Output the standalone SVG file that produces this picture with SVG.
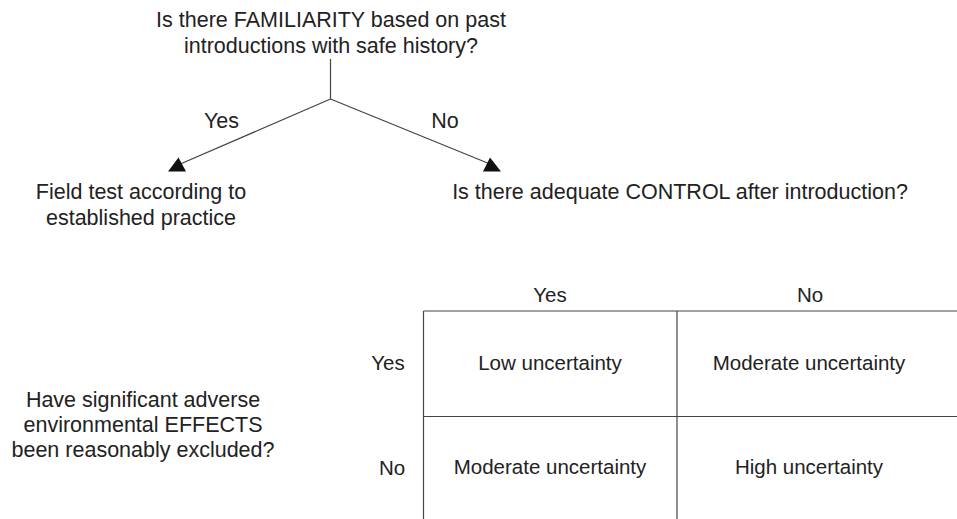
<svg xmlns="http://www.w3.org/2000/svg" width="957" height="519" viewBox="0 0 957 519">
  <style>
    text { font-family: "Liberation Sans", Arial, sans-serif; fill: #222; text-anchor: middle; }
    .t { font-size: 21.5px; }
    .c { font-size: 20.5px; }
    .ln { stroke: #444; stroke-width: 1.2; fill: none; }
    .head { fill: #111; stroke: none; }
  </style>

  <!-- decision tree: familiarity question -->
  <g id="q-familiarity">
    <text class="t" x="331" y="27">Is there FAMILIARITY based on past</text>
    <text class="t" x="331" y="53">introductions with safe history?</text>
  </g>

  <g id="connectors">
    <line class="ln" x1="330.5" y1="59" x2="330.5" y2="99"/>
    <line class="ln" x1="330.5" y1="99" x2="178" y2="165"/>
    <line class="ln" x1="330.5" y1="99" x2="490" y2="164"/>
    <polygon class="head" points="168,171.5 178.5,157.5 186,171.5"/>
    <polygon class="head" points="483,171.5 490,157.5 501,171.5"/>
    <text class="t" x="221.5" y="128">Yes</text>
    <text class="t" x="445" y="128">No</text>
  </g>

  <g id="field-test">
    <text class="t" x="141" y="199">Field test according to</text>
    <text class="t" x="141" y="224.5">established practice</text>
  </g>

  <g id="q-control">
    <text class="t" x="680" y="198.5">Is there adequate CONTROL after introduction?</text>
  </g>

  <!-- uncertainty matrix -->
  <g id="q-effects">
    <text class="t" x="143" y="406.5">Have significant adverse</text>
    <text class="t" x="143" y="431.5">environmental EFFECTS</text>
    <text class="t" x="143" y="456.5">been reasonably excluded?</text>
  </g>

  <g id="matrix">
    <line class="ln" x1="423.5" y1="311" x2="957" y2="311"/>
    <line class="ln" x1="423.5" y1="416.5" x2="957" y2="416.5"/>
    <line class="ln" x1="423.5" y1="311" x2="423.5" y2="519"/>
    <line class="ln" x1="677" y1="311" x2="677" y2="519"/>

    <text class="c" x="550" y="302">Yes</text>
    <text class="c" x="810" y="302">No</text>
    <text class="c" x="388" y="370">Yes</text>
    <text class="c" x="392" y="475">No</text>

    <text class="c" x="550" y="370">Low uncertainty</text>
    <text class="c" x="809" y="370">Moderate uncertainty</text>
    <text class="c" x="550" y="474">Moderate uncertainty</text>
    <text class="c" x="809" y="474">High uncertainty</text>
  </g>
</svg>
